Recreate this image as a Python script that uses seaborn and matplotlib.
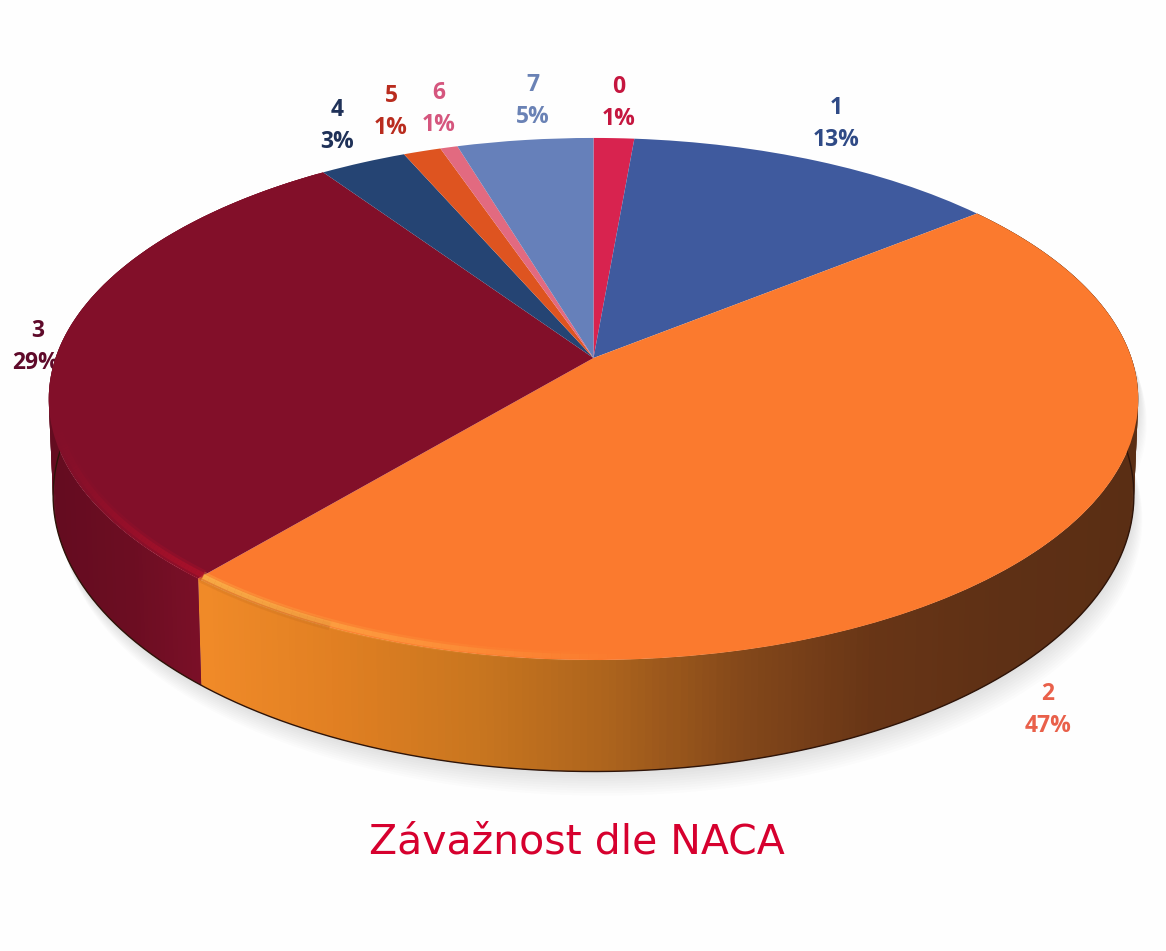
import numpy as np
import matplotlib
matplotlib.use("Agg")
import matplotlib.pyplot as plt
import seaborn as sns
from matplotlib.collections import LineCollection, PolyCollection
from matplotlib.patches import Polygon
from matplotlib.transforms import Transform

# NACA severity grades, share of cases
grades = ["0", "1", "2", "3", "4", "5", "6", "7"]
shares = [1.4, 12.9, 46.9, 29.2, 3.0, 1.3, 0.6, 4.7]
pct_labels = ["1%", "13%", "47%", "29%", "3%", "1%", "1%", "5%"]

top_colors = ["#D8234F", "#3F5A9E", "#FB7A2E", "#820F29", "#254473", "#DE5420", "#E26A80", "#6680BA"]
label_colors = ["#C5163F", "#2F4A86", "#E9604A", "#5F0A2A", "#1F3158", "#B92C1E", "#D5567E", "#6A82B5"]
label_pos = [(619, 103), (836, 124), (1048, 710), (36, 347), (337, 126), (391, 112), (439, 109), (533, 101)]

# perspective of the tilted disc, pixels
cx, cy = 593.5, 358
rx, ry, k = 538, 254.6, 0.157
depth = 94


class Tilt(Transform):
    input_dims = 2
    output_dims = 2

    def transform_non_affine(self, xy):
        xy = np.asarray(xy)
        w = 1 + k * xy[:, 1]
        return np.column_stack([cx + rx * xy[:, 0] / w, cy - ry * xy[:, 1] / w])


tilt = Tilt()


def rim(theta_deg, r=1.0):
    t = np.radians(theta_deg)
    return tilt.transform_non_affine(np.column_stack([r * np.cos(t), r * np.sin(t)]))


def lower(pts, theta_deg):
    w = 1 + k * np.sin(np.radians(theta_deg))
    out = pts.copy()
    out[:, 0] = cx + (pts[:, 0] - cx) * 0.992
    out[:, 1] = pts[:, 1] + depth / w
    return out


sns.set_theme(style="white")
plt.rcParams["font.family"] = ["Open Sans", "DejaVu Sans"]

fig = plt.figure(figsize=(11.66, 9.51), dpi=100, facecolor="#FEFEFE")
ax = fig.add_axes([0, 0, 1, 1])

wedges, _ = ax.pie(shares, colors=top_colors, startangle=90, counterclock=False, radius=1)
ax.set_aspect("auto")
ax.set_xlim(0, 1166)
ax.set_ylim(951, 0)
ax.axis("off")
for w in wedges:
    w.set_transform(tilt + ax.transData)
    w.set_zorder(5)
    w.set_linewidth(0)

# side wall colours run from left to right along the front
orange_side = sns.blend_palette(["#F08A28", "#E07F22", "#C9761F", "#AD641D", "#84481A", "#683516", "#5E3015", "#5A2E14"], as_cmap=True)
maroon_side = sns.blend_palette(["#640C20", "#6C0D22", "#7D1028"], as_cmap=True)

orange_th = np.linspace(wedges[2].theta1, wedges[2].theta2, 260)
maroon_th = np.linspace(wedges[3].theta1, wedges[3].theta2, 160)

front = np.linspace(-190, 10, 300)
front_top = rim(front)
front_low = lower(front_top, front)

# soft shadow under the disc
for off in np.linspace(2, 24, 10):
    outline = np.vstack([front_top, front_low[::-1]])
    shifted = outline + [off * 0.35, off]
    ax.add_patch(Polygon(shifted, closed=True, fc="#707070", ec="none", alpha=0.018, zorder=1))

for th, cmap, x0, x1 in [(orange_th, orange_side, 203, 1138), (maroon_th, maroon_side, 48, 208)]:
    up = rim(th)
    lo = lower(up, th)
    quads = []
    cols = []
    for i in range(len(th) - 1):
        # overlap a little so no seams show between strips
        j = min(i + 2, len(th) - 1)
        quads.append([up[i], up[j], lo[j], lo[i]])
        cols.append(cmap((up[i, 0] - x0) / (x1 - x0)))
    ax.add_collection(PolyCollection(quads, facecolors=cols, edgecolors="none", zorder=3))

# dark contour at the bottom of the wall
ax.plot(front_low[:, 0], front_low[:, 1], color="#2E1409", lw=1.0, zorder=4)

# soft edge of the top face, dark on the right half
soft_th = np.linspace(wedges[2].theta1, -115, 120)
soft = rim(soft_th, 0.995)
segs = np.stack([soft[:-1], soft[1:]], axis=1)
for lw, alpha in [(7, 0.18), (4, 0.3)]:
    ax.add_collection(LineCollection(segs, colors=[(0.7, 0.38, 0.12, alpha)], linewidths=lw, zorder=6))

# highlight along the front rim
hi_th = np.linspace(wedges[2].theta1, wedges[2].theta2, 200)
hi = rim(hi_th, 0.99)
a = np.clip((640 - hi[:, 0]) / 430, 0, 1) ** 1.3
segs = np.stack([hi[:-1], hi[1:]], axis=1)
for lw, scale in [(7, 0.3), (3.5, 0.7)]:
    ax.add_collection(LineCollection(segs, colors=[(1.0, 0.72, 0.3, v * scale) for v in a[:-1]], linewidths=lw, zorder=6))

hi_th = np.linspace(wedges[3].theta1, wedges[3].theta2, 200)
hi = rim(hi_th, 0.988)
a = np.clip((hi[:, 0] - 55) / 150, 0, 1) * (hi[:, 1] > 430)
segs = np.stack([hi[:-1], hi[1:]], axis=1)
for lw, scale in [(8, 0.3), (4, 0.6)]:
    ax.add_collection(LineCollection(segs, colors=[(0.72, 0.07, 0.17, v * scale) for v in a[:-1]], linewidths=lw, zorder=6))

# labels sit under the disc, the 3 / 29% one is partly covered
for g, p, c, pos in zip(grades, pct_labels, label_colors, label_pos):
    ax.text(pos[0] + (2 if g == "3" else 0), pos[1] - 16, g, color=c, fontsize=16.5, fontweight="bold", ha="center", va="center", zorder=2)
    ax.text(pos[0], pos[1] + 16, p, color=c, fontsize=16.5, fontweight="bold", ha="center", va="center", zorder=2)

ax.text(577, 843, "Závažnost dle NACA", color="#D6002E", fontsize=29.5, family="DejaVu Sans", ha="center", va="center", zorder=7)

fig.savefig("out.png", dpi=100, facecolor=fig.get_facecolor())
